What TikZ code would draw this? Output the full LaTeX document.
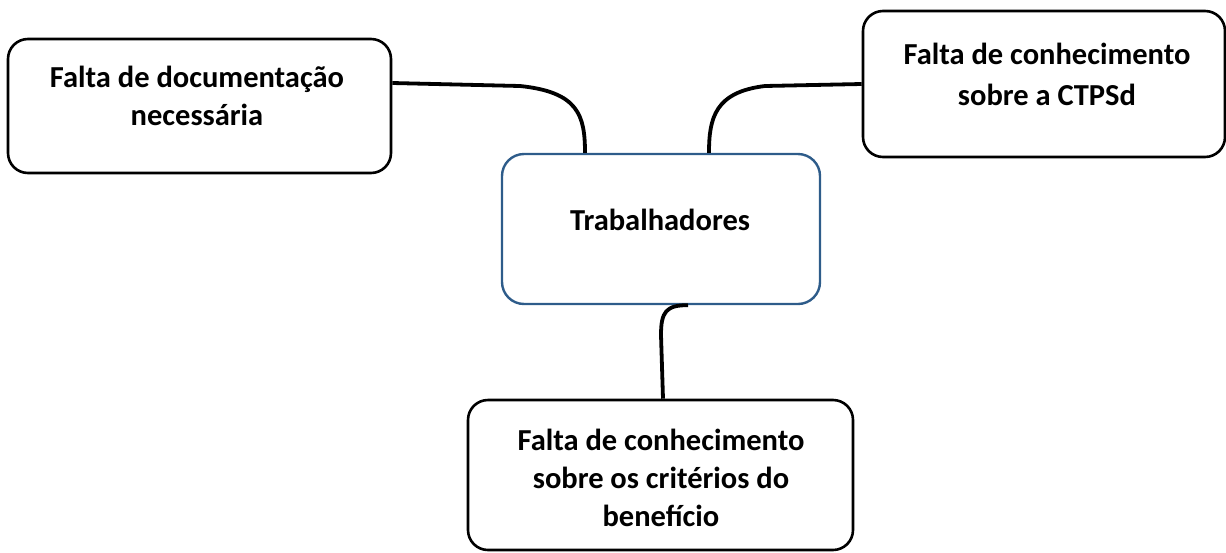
\documentclass[tikz,border=0pt]{standalone}
\usepackage{fontspec}
\setmainfont{Carlito}
\definecolor{cblue}{HTML}{2E5C8A}
\begin{document}
\begin{tikzpicture}[x=1pt,y=-1pt,
  box/.style={draw=black,line width=2.6pt,rounded corners=20pt,inner sep=0pt},
  cbox/.style={draw=cblue,line width=2.4pt,rounded corners=22pt,inner sep=0pt},
  lbl/.style={font=\fontsize{30.5}{38}\selectfont\bfseries,align=center,inner sep=0pt,anchor=center},
  conn/.style={draw=black,line width=3.8pt}]
\useasboundingbox (0,0) rectangle (1226,552);
\node[box,minimum width=383pt,minimum height=134pt] (L) at (199.5,106) {};
\node[box,minimum width=362pt,minimum height=146pt] (R) at (1044,84) {};
\node[cbox,minimum width=318pt,minimum height=150pt] (C) at (661,229) {};
\node[box,minimum width=385pt,minimum height=150pt] (B) at (660.5,475) {};
\node[lbl] (Lt) at (197,96) {Falta de documentação\\necessária};
\node[lbl,font=\fontsize{30.5}{41}\selectfont\bfseries] (Rt) at (1047,74) {Falta de conhecimento\\sobre a CTPSd};
\node[lbl] (Ct) at (660,220) {Trabalhadores};
\node[lbl] (Bt) at (661,478) {Falta de conhecimento\\sobre os critérios do\\benefício};
\coordinate (l1) at (520,86);
\coordinate (l2) at (585,154);
\coordinate (r1) at (765,86);
\coordinate (r2) at (709,154);
\coordinate (b0) at (688,304);
\coordinate (b1) at (661,335);
\coordinate (b2) at (663,400);
\draw[conn] (L.east |- 0,83) -- (l1) .. controls (578,92) and (585,115) .. (l2 |- C.north);
\draw[conn] (R.west |- 0,84) -- (r1) .. controls (715,92) and (709,118) .. (r2 |- C.north);
\draw[conn] (b0 |- C.south) .. controls (666,305) and (661,312) .. (b1) -- (b2 |- B.north);
\end{tikzpicture}
\end{document}
